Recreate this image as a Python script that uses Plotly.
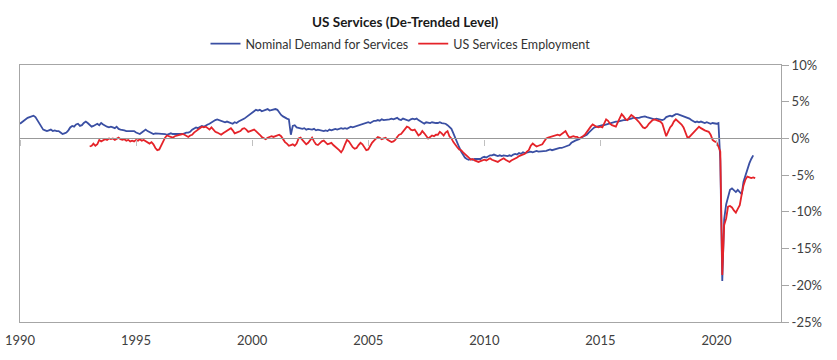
import pandas as pd
import plotly.graph_objects as go

# ---------------- data (monthly, % deviation from trend) ----------------
demand_start = "1990-01-01"
demand_values = [
    2.0, 2.2, 2.5, 2.7, 2.8, 2.9, 3.0, 3.1, 2.9, 2.5, 2.0, 1.5,          # 1990
    1.2, 1.1, 1.0, 1.1, 1.2, 1.0, 1.1, 1.0, 1.0, 0.8, 0.6, 0.7,          # 1991
    0.8, 1.1, 1.5, 1.7, 1.6, 1.9, 2.0, 1.7, 1.8, 2.1, 2.3, 2.1,          # 1992
    1.9, 1.6, 1.7, 1.9, 2.0, 1.8, 2.1, 1.9, 1.7, 1.6, 1.5, 1.6,          # 1993
    1.5, 1.4, 1.6, 1.3, 1.2, 1.2, 1.1, 1.0, 1.0, 0.9, 0.9, 1.0,          # 1994
    0.8, 0.7, 0.6, 0.8, 1.0, 1.2, 1.0, 0.9, 0.7, 0.6, 0.7, 0.7,          # 1995
    0.6, 0.7, 0.6, 0.6, 0.5, 0.6, 0.7, 0.6, 0.6, 0.5, 0.6, 0.6,          # 1996
    0.6, 0.7, 0.8, 0.8, 0.9, 1.2, 1.4, 1.5, 1.4, 1.5, 1.7, 1.6,          # 1997
    1.7, 1.9, 2.0, 2.2, 2.3, 2.5, 2.6, 2.5, 2.4, 2.3, 2.2, 2.3,          # 1998
    2.2, 2.1, 2.0, 2.2, 2.1, 2.3, 2.4, 2.6, 2.7, 2.9, 3.1, 3.3,          # 1999
    3.5, 3.7, 3.9, 3.8, 3.9, 3.7, 3.8, 3.9, 4.0, 3.8, 3.9, 4.0,          # 2000
    4.0, 3.9, 3.5, 3.2, 3.0, 2.8, 2.7, 2.6, 0.5, 1.7, 1.8, 1.5,          # 2001
    1.4, 1.3, 1.3, 1.4, 1.2, 1.3, 1.2, 1.2, 1.3, 1.1, 1.2, 1.1,          # 2002
    1.1, 1.0, 1.1, 1.0, 1.2, 1.1, 1.2, 1.3, 1.2, 1.3, 1.4, 1.3,          # 2003
    1.4, 1.3, 1.5, 1.6, 1.5, 1.6, 1.7, 1.8, 1.8, 1.9, 2.0, 2.1,          # 2004
    2.2, 2.1, 2.3, 2.4, 2.4, 2.5, 2.4, 2.6, 2.5, 2.5, 2.6, 2.6,          # 2005
    2.7, 2.6, 2.7, 2.8, 2.6, 2.5, 2.7, 2.6, 2.5, 2.4, 2.6, 2.7,          # 2006
    2.6, 2.7, 2.5, 2.3, 2.1, 2.0, 2.2, 2.1, 2.1, 2.2, 2.1, 2.1,          # 2007
    2.1, 2.2, 2.1, 2.1, 2.0, 1.8, 1.6, 1.3, 0.7, 0.0, -0.6, -1.2,        # 2008
    -1.8, -2.3, -2.6, -2.8, -2.9, -2.8, -2.9, -2.8, -2.8, -2.7, -2.8, -2.6,  # 2009
    -2.5, -2.6, -2.4, -2.3, -2.3, -2.2, -2.3, -2.4, -2.3, -2.4, -2.3, -2.4,  # 2010
    -2.4, -2.3, -2.4, -2.2, -2.1, -2.2, -2.0, -2.1, -1.9, -2.0, -1.9, -1.9,  # 2011
    -1.8, -1.9, -1.8, -1.7, -1.8, -1.8, -1.7, -1.8, -1.7, -1.6, -1.5, -1.6,  # 2012
    -1.5, -1.4, -1.4, -1.3, -1.3, -1.2, -1.1, -1.0, -0.9, -0.6, -0.4, -0.3,  # 2013
    -0.2, -0.1, 0.1, 0.2, 0.3, 0.5, 0.8, 1.1, 1.3, 1.5, 1.6, 1.7,        # 2014
    1.7, 1.8, 1.8, 1.9, 2.0, 2.1, 2.1, 2.2, 2.3, 2.3, 2.4, 2.4,          # 2015
    2.5, 2.5, 2.6, 2.6, 2.7, 2.8, 2.8, 2.7, 2.8, 2.9, 3.0, 3.0,          # 2016
    2.9, 2.8, 2.7, 2.6, 2.6, 2.7, 2.6, 2.5, 2.5, 2.6, 2.9, 3.0,          # 2017
    3.1, 3.0, 3.2, 3.3, 3.3, 3.2, 3.2, 3.1, 3.0, 2.9, 2.7, 2.5,          # 2018
    2.3, 2.2, 2.3, 2.2, 2.3, 2.2, 2.1, 2.2, 2.1, 2.0, 2.1, 2.0,          # 2019
    2.0, 2.1, -3.0, -19.4, -11.0, -9.0, -7.8, -7.0, -6.8, -7.1, -7.3, -7.0,  # 2020
    -7.3, -7.6, -5.9, -5.0, -4.2, -3.4, -2.8, -2.3,                      # 2021
]

employment_start = "1993-01-01"
employment_values = [
    -1.1, -1.0, -0.7, -1.0, -0.8, -0.2, -0.4, -0.3, -0.1, -0.2, 0.0, -0.1,   # 1993
    0.0, -0.2, -0.1, 0.1, -0.1, -0.2, -0.1, -0.3, -0.2, -0.4, -0.3, -0.4,    # 1994
    -0.2, -0.3, -0.1, -0.3, -0.2, -0.4, -0.5, -0.7, -0.5, -0.8, -1.3, -1.6,  # 1995
    -1.5, -0.9, -0.3, 0.1, 0.4, 0.3, 0.2, 0.1, 0.3, 0.4, 0.5, 0.5,          # 1996
    0.6, 0.5, 0.3, 0.2, 0.4, 0.5, 0.8, 1.0, 1.3, 1.5, 1.6, 1.5,             # 1997
    1.6, 1.4, 1.2, 1.5, 1.2, 0.9, 0.8, 0.6, 0.5, 0.7, 0.9, 1.0,             # 1998
    1.2, 1.4, 1.1, 0.7, 0.8, 0.9, 1.0, 1.3, 1.4, 1.2, 0.9, 1.0,             # 1999
    1.1, 1.2, 1.0, 0.8, 0.5, 0.2, 0.0, -0.1, 0.1, 0.2, 0.3, 0.2,            # 2000
    0.3, 0.4, 0.5, 0.3, -0.1, -0.5, -0.7, -1.0, -0.9, -0.8, -1.0, -0.7,     # 2001
    0.0, 0.1, -0.2, -0.5, -0.8, -0.6, -0.2, 0.1, -0.4, -0.8, -0.9, -0.6,    # 2002
    -0.4, -0.3, -0.5, -0.8, -0.7, -0.6, -0.9, -1.1, -1.3, -1.6, -1.9, -1.5, # 2003
    -0.8, -0.2, -0.4, -0.9, -1.2, -1.4, -1.3, -0.9, -0.6, -0.8, -1.2, -1.6, # 2004
    -1.5, -1.0, -0.6, -0.3, -0.1, 0.2, 0.1, -0.1, 0.0, 0.1, -0.2, -0.4,     # 2005
    -0.5, -0.4, -0.2, 0.2, 0.5, 0.6, 0.9, 1.3, 1.6, 1.5, 1.2, 1.1,          # 2006
    1.2, 0.8, 0.4, 0.6, 1.0, 0.7, 0.3, 0.0, 0.2, 0.4, 0.3, 0.5,             # 2007
    0.5, 0.9, 0.7, 0.4, 0.8, 1.0, 0.3, 0.0, -0.5, -0.9, -1.2, -1.5,         # 2008
    -1.6, -1.9, -2.1, -2.3, -2.6, -2.9, -2.8, -3.0, -3.1, -3.2, -3.1, -3.0, # 2009
    -2.9, -3.0, -2.8, -2.7, -2.9, -3.0, -3.1, -3.2, -3.0, -2.8, -2.7, -2.9, # 2010
    -3.1, -3.2, -3.0, -2.9, -2.7, -2.6, -2.4, -2.3, -2.2, -2.1, -1.8, -1.6, # 2011
    -1.0, -0.7, -0.9, -1.1, -1.0, -0.9, -0.8, -0.4, 0.0, 0.1, 0.2, 0.2,     # 2012
    0.3, 0.4, 0.5, 0.4, 0.6, 0.8, 1.0, 0.5, 0.1, 0.2, 0.3, 0.2,             # 2013
    0.2, 0.0, 0.1, 0.3, 0.5, 0.9, 1.2, 1.6, 1.9, 1.7, 1.6, 1.5,             # 2014
    1.6, 1.5, 2.0, 2.6, 2.4, 2.0, 1.8, 1.7, 1.6, 2.2, 2.8, 3.3,             # 2015
    3.0, 2.6, 2.5, 2.9, 3.2, 3.0, 2.8, 2.5, 2.2, 1.8, 1.5, 1.4,             # 2016
    1.6, 2.0, 2.3, 2.5, 2.6, 2.5, 2.4, 2.3, 2.0, 1.0, 0.3, 0.9,             # 2017
    1.5, 1.8, 2.3, 2.6, 2.4, 2.2, 1.9, 1.5, 0.8, 0.1, 0.2, 0.5,             # 2018
    0.8, 1.1, 1.4, 1.6, 1.4, 1.2, 1.1, 1.0, 0.9, 0.5, -0.2, -0.4,           # 2019
    -0.5, -1.1, -1.8, -18.6, -11.8, -10.9, -9.3, -9.2, -9.4, -9.8, -10.1, -9.6,  # 2020
    -9.1, -7.6, -6.4, -5.6, -5.2, -5.3, -5.4, -5.3, -5.4,                   # 2021
]

series_names = ["Nominal Demand for Services", "US Services Employment"]
y_tick_values = [10, 5, 0, -5, -10, -15, -20, -25]
y_tick_labels = ["10%", "5%", "0%", "-5%", "-10%", "-15%", "-20%", "-25%"]
title_text = "US Services (De-Trended Level)"

# ---------------- figure ----------------
demand_dates = pd.date_range(demand_start, periods=len(demand_values), freq="MS")
employment_dates = pd.date_range(employment_start, periods=len(employment_values), freq="MS")

BLUE = "#3a4fa3"
RED = "#e52329"
GREY = "#a6a6a6"
FONT = "Lato, 'Open Sans', sans-serif"

fig = go.Figure()
fig.add_trace(go.Scatter(x=demand_dates, y=demand_values, mode="lines",
                         name=series_names[0], line=dict(color=BLUE, width=1.8)))
fig.add_trace(go.Scatter(x=employment_dates, y=employment_values, mode="lines",
                         name=series_names[1], line=dict(color=RED, width=1.8)))
# helper trace so the zero-crossing axis (x2) is drawn
fig.add_trace(go.Scatter(x=[demand_dates[0]], y=[None], xaxis="x2", yaxis="y",
                         mode="lines", showlegend=False, hoverinfo="skip"))

y_min, y_max = -25, 10
zero_pos = (0 - y_min) / (y_max - y_min)

fig.update_layout(
    width=837, height=360,
    margin=dict(l=20, r=56, t=65, b=38, autoexpand=False),
    paper_bgcolor="white", plot_bgcolor="white",
    font=dict(family=FONT, size=13, color="#404040"),
    title=dict(text="<b>" + title_text + "</b>", x=0.484, xanchor="center",
               y=1 - 22 / 360, yanchor="middle",
               font=dict(family=FONT, size=13.5, color="#1a1a1a")),
    legend=dict(orientation="h", x=0.5, xanchor="center",
                yref="container", y=1 - 44 / 360, yanchor="middle",
                font=dict(family=FONT, size=12.5, color="#333333"),
                bgcolor="rgba(0,0,0,0)", itemwidth=30, tracegroupgap=0),
    showlegend=True,
    xaxis=dict(
        type="date", range=["1990-01-01", "2022-10-12"], automargin=False,
        tick0="1990-01-01", dtick="M60", tickformat="%Y",
        showline=True, mirror=True, linecolor=GREY, linewidth=1,
        ticks="", ticklabelstandoff=6, showgrid=False, zeroline=False,
        tickfont=dict(family=FONT, size=13, color="#404040"),
    ),
    xaxis2=dict(
        type="date", matches="x", overlaying="x", anchor="free", position=zero_pos,
        tick0="1990-01-01", dtick="M60", automargin=False,
        showline=True, linecolor="#999999", linewidth=1.2,
        ticks="outside", ticklen=6, tickcolor="#c0c0c0", tickwidth=1,
        showticklabels=False, showgrid=False, zeroline=False,
    ),
    yaxis=dict(
        side="right", range=[y_min, y_max], automargin=False,
        tickmode="array", tickvals=y_tick_values, ticktext=y_tick_labels,
        showline=True, mirror=True, linecolor=GREY, linewidth=1,
        ticks="outside", ticklen=7, tickcolor=GREY,
        showgrid=False, zeroline=False,
        tickfont=dict(family=FONT, size=13, color="#404040"),
    ),
)

fig.write_html("out.html", config={"displayModeBar": False},
               post_script="document.body.style.margin='0';")
